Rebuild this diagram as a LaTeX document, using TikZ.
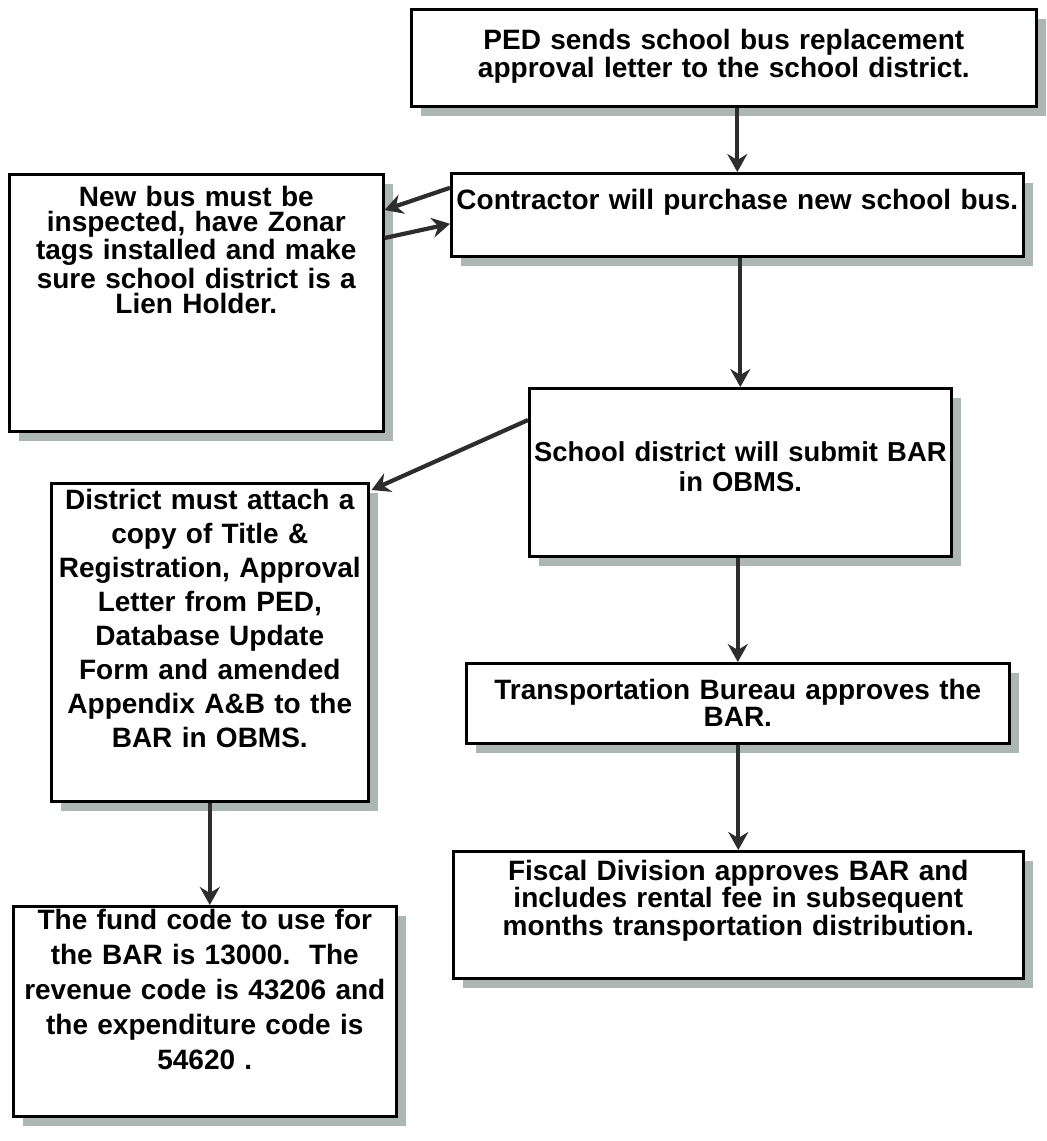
\documentclass[tikz,border=0pt]{standalone}
\usepackage{fontspec}
\setmainfont{Liberation Sans}
\usetikzlibrary{positioning,arrows.meta,shadows}

\definecolor{shadowgray}{RGB}{172,182,178}
\definecolor{inkgray}{RGB}{45,45,45}

\tikzset{
  stepbox/.style={draw=black, line width=1.3pt, fill=white, align=center,
    anchor=north west, inner xsep=2pt, inner ysep=0pt,
    font=\bfseries\fontsize{14}{12.5}\selectfont,
    drop shadow={shadow xshift=5pt, shadow yshift=-5pt, fill=shadowgray, opacity=1}},
  flow/.style={-{Stealth[length=9pt,width=10pt,inset=3pt]}, line width=2.1pt, draw=inkgray}
}

\begin{document}
\frenchspacing
\begin{tikzpicture}[x=0.5pt,y=-0.5pt]
    \fill[white] (0,0) rectangle (1047,1141);
    \useasboundingbox (0,0) rectangle (1047,1141);

    % right column
    \node[stepbox, text width=308.5pt, text height=20pt, text depth=28.5pt] (ped) at (410,8)
        {PED sends school bus replacement\\approval letter to the school district.};
    \node[stepbox, text width=282pt, text height=18pt, text depth=23.5pt] (contractor) at (450,172)
        {Contractor will purchase new school bus.};
    \node[stepbox, text width=207pt, text height=36.5pt, text depth=47.5pt,
          font=\bfseries\fontsize{13.7}{15}\selectfont] (school) at (528,387)
        {School district will submit BAR\\in OBMS.};
    \node[stepbox, text width=267.5pt, text height=18pt, text depth=22pt] (bureau) at (465,662)
        {Transportation Bureau approves the\\BAR.};
    \node[stepbox, text width=281pt, text height=14.5pt, text depth=49pt,
          font=\bfseries\fontsize{14}{13.75}\selectfont] (fiscal) at (452,850)
        {Fiscal Division approves BAR and\\includes rental fee in subsequent\\months transportation distribution.};

    % left column
    \node[stepbox, text width=183pt, text height=16pt, text depth=112.5pt,
          font=\bfseries\fontsize{14}{12.75}\selectfont] (bus) at (8,173)
        {New bus must be\\inspected, have Zonar\\tags installed and make\\sure school district is a\\Lien Holder.};
    \node[stepbox, text width=154.5pt, text height=13pt, text depth=146pt,
          font=\bfseries\fontsize{14}{17}\selectfont] (attach) at (50,482)
        {District must attach a\\copy of Title \&\\Registration, Approval\\Letter from PED,\\Database Update\\Form and amended\\Appendix A\&B to the\\BAR in OBMS.};
    \node[stepbox, text width=187.5pt, text height=11.5pt, text depth=93.5pt,
          font=\bfseries\fontsize{14}{17.5}\selectfont] (fund) at (12,905)
        {The fund code to use for\\the BAR is 13000.\ \ The\\revenue code is 43206 and\\the expenditure code is\\54620 .};

    % connectors
    \draw[flow] (ped.south -| contractor.north) -- (contractor.north);
    \draw[flow] ([yshift=13.5pt]contractor.west) -- ([yshift=-18.5pt]bus.north east);
    \draw[flow] ([yshift=-32.5pt]bus.north east) -- ([yshift=-4.5pt]contractor.west);
    \draw[flow] (contractor.south -| school.north) -- (school.north);
    \draw[flow] ([yshift=-16.5pt]school.north west) -- ([xshift=1pt,yshift=-4pt]attach.north east);
    \draw[flow] (school.south -| bureau.north) -- (bureau.north);
    \draw[flow] (bureau.south -| fiscal.north) -- (fiscal.north);
    \draw[flow] (attach.south) -- (attach.south |- fund.north);
\end{tikzpicture}
\end{document}
